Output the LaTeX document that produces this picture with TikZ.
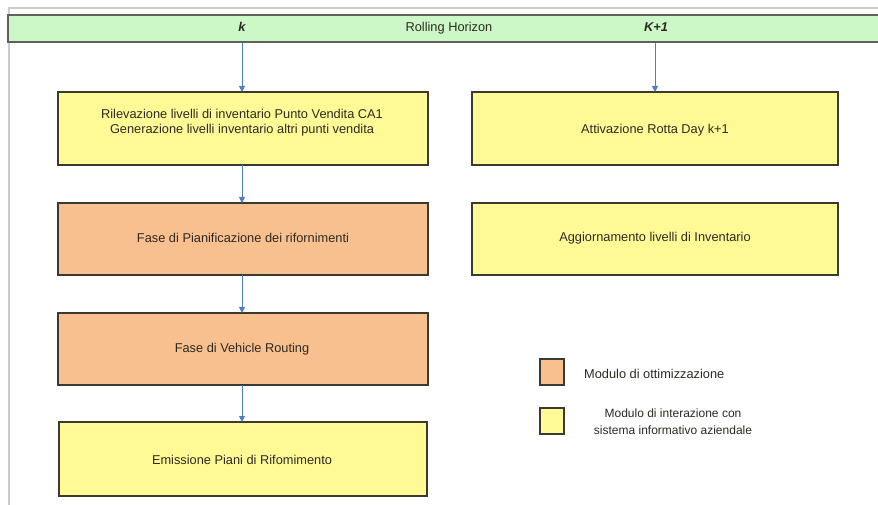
\documentclass[tikz,border=0pt]{standalone}
\usepackage{fontspec}
\setmainfont{Liberation Sans}
\usetikzlibrary{arrows.meta}
\definecolor{barg}{HTML}{CCF8C8}
\definecolor{boxy}{HTML}{FFFA96}
\definecolor{boxo}{HTML}{F9C08F}
\definecolor{arrb}{HTML}{4F7FC0}
\definecolor{edgec}{HTML}{3A3A30}
\definecolor{txtc}{HTML}{2E2A22}
\tikzset{
  yelbox/.style={draw=edgec, line width=1.3pt, fill=boxy},
  orabox/.style={draw=edgec, line width=1.3pt, fill=boxo},
  lbl/.style={font=\fontsize{12.8}{15}\selectfont, text=txtc, align=center, inner sep=0pt},
  flow/.style={draw=arrb, line width=1pt, -{Triangle[width=6pt,length=6pt]}},
}
\begin{document}
\begin{tikzpicture}[x=1pt,y=-1pt]
\useasboundingbox (0,0) rectangle (878,505);
\fill[white] (0,0) rectangle (878,505);
% frame
\draw[gray!40, line width=2pt] (8,8) -- (878,8);
\draw[gray!40, line width=2pt] (9,8) -- (9,505);
% bar
\draw[draw=edgec!80, line width=1.3pt, fill=barg] (8,15) rectangle (890,42);
\node[lbl, font=\fontsize{12.8}{15}\selectfont\bfseries\itshape] (kk) at (242,27) {k};
\node[lbl] (rh) at (449,28) {Rolling Horizon};
\node[lbl, font=\fontsize{12.8}{15}\selectfont\bfseries\itshape] (k1) at (656,27) {K+1};
\coordinate (ka) at (242,42.7);
\coordinate (kb) at (655,42.7);
% left column boxes
\draw[yelbox] (58,92) rectangle (428,165);
\node[lbl] (b1) at (242,122.5) {Rilevazione livelli di inventario Punto Vendita CA1\\Generazione livelli inventario altri punti vendita};
\coordinate (b1t) at (242,92); \coordinate (b1b) at (242,165);
\draw[orabox] (58,203) rectangle (428,275);
\node[lbl] (b2) at (243,238) {Fase di Pianificazione dei rifornimenti};
\coordinate (b2t) at (242,203); \coordinate (b2b) at (242,275);
\draw[orabox] (58,313) rectangle (428,385);
\node[lbl] (b3) at (242,349) {Fase di Vehicle Routing};
\coordinate (b3t) at (242,313); \coordinate (b3b) at (242,385);
\draw[yelbox] (59,422) rectangle (427,496);
\node[lbl] (b4) at (242,460) {Emissione Piani di Rifomimento};
\coordinate (b4t) at (242,422);
% right column
\draw[yelbox] (472,92) rectangle (838,165);
\node[lbl] (r1) at (655,130) {Attivazione Rotta Day k+1};
\coordinate (r1t) at (655,92);
\draw[yelbox] (472,203) rectangle (838,275);
\node[lbl] (r2) at (655,238) {Aggiornamento livelli di Inventario};
% arrows
\draw[flow] (ka) -- (b1t);
\draw[flow] (kb) -- (r1t);
\draw[flow] (b1b) -- (b2t);
\draw[flow] (b2b) -- (b3t);
\draw[flow] (b3b) -- (b4t);
% legend
\draw[orabox] (540,359) rectangle (564,385);
\node[lbl, anchor=west] (l1) at (584,374) {Modulo di ottimizzazione};
\draw[yelbox] (540,408) rectangle (564,434);
\node[lbl, font=\fontsize{12}{17}\selectfont] (l2) at (673,422) {Modulo di interazione con\\sistema informativo aziendale};
\end{tikzpicture}
\end{document}
